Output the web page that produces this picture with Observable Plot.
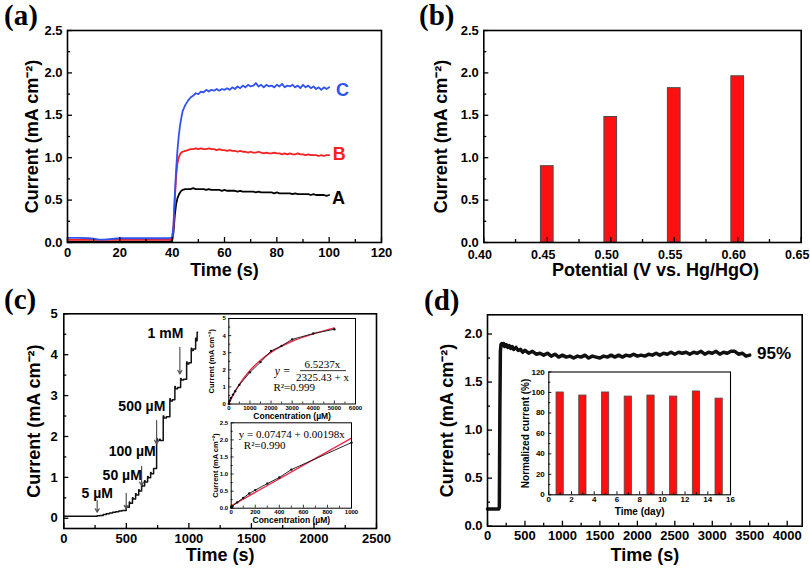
<!DOCTYPE html>
<html><head><meta charset="utf-8">
<script src="https://cdn.jsdelivr.net/npm/d3@7"></script>
<script src="https://cdn.jsdelivr.net/npm/@observablehq/plot@0.6"></script>
<style>
body{margin:0;background:#fff;}
#fig{position:relative;width:810px;height:570px;overflow:hidden;background:#fff;}
#fig svg{position:absolute;}
.plab{position:absolute;font-family:"Liberation Serif","Times New Roman",serif;font-weight:bold;font-size:29px;line-height:1.1;color:#000;}
</style></head><body><div id="fig"></div>
<script>
// ---------- (a) chronoamperometry ----------
const aTime = [0,4,8,10,12,14,16,20,25,30,35,39,
  40,40.5,41,41.5,42,42.5,43,43.5,
  44,45,46,47,48,49,50,51,52,53,54,55,56,57,58,59,60,61,62,63,64,65,66,67,68,69,70,71,72,73,74,75,76,77,78,79,80,81,82,83,84,85,86,87,88,89,90,91,92,93,94,95,96,97,98,99,100];
const aC = [0.055,0.055,0.05,0.045,0.035,0.035,0.04,0.05,0.05,0.05,0.05,0.05,
  0.06,0.2,0.55,0.85,1.08,1.25,1.38,1.47,
  1.55,1.62,1.67,1.71,1.73,1.76,1.75,1.78,1.77,1.8,1.78,1.8,1.79,1.81,1.79,1.81,1.8,1.82,1.8,1.83,1.81,1.84,1.82,1.85,1.83,1.86,1.84,1.85,1.88,1.84,1.86,1.83,1.86,1.84,1.85,1.83,1.86,1.84,1.87,1.83,1.85,1.84,1.86,1.83,1.85,1.82,1.86,1.83,1.85,1.82,1.84,1.81,1.83,1.8,1.83,1.81,1.83];
const aB = [0.03,0.03,0.03,0.03,0.03,0.03,0.03,0.03,0.03,0.03,0.03,0.03,
  0.04,0.18,0.5,0.78,0.93,1.0,1.04,1.06,
  1.07,1.08,1.09,1.1,1.1,1.11,1.1,1.11,1.1,1.1,1.11,1.1,1.1,1.09,1.1,1.09,1.09,1.08,1.09,1.08,1.08,1.07,1.08,1.07,1.07,1.06,1.07,1.06,1.06,1.07,1.06,1.05,1.06,1.05,1.05,1.06,1.05,1.05,1.04,1.05,1.04,1.05,1.04,1.04,1.05,1.04,1.04,1.03,1.04,1.03,1.03,1.03,1.02,1.03,1.02,1.03,1.03];
const aA = [0.01,0.01,0.01,0.01,0.01,0.01,0.01,0.01,0.01,0.01,0.01,0.01,
  0.02,0.12,0.32,0.45,0.52,0.56,0.59,0.61,
  0.62,0.63,0.63,0.63,0.64,0.63,0.63,0.63,0.63,0.62,0.63,0.62,0.62,0.62,0.62,0.61,0.62,0.61,0.61,0.61,0.61,0.6,0.61,0.6,0.6,0.6,0.6,0.6,0.59,0.6,0.59,0.59,0.59,0.59,0.59,0.58,0.59,0.58,0.58,0.58,0.58,0.58,0.57,0.58,0.57,0.57,0.57,0.57,0.57,0.56,0.57,0.56,0.56,0.56,0.56,0.55,0.56];
const aNames = ["A","B","C"];
const aColors = ["#000000","#f52020","#2f52f0"];
const aLabelTime = [103.6,103.9,105.1];
const aLabelCur = [0.52,1.04,1.79];
const aXTicks = [0,20,40,60,80,100,120];
const aXMinor = [10,30,50,70,90,110];
const aYTicks = [0,0.5,1.0,1.5,2.0,2.5];
const aYMinor = [0.25,0.75,1.25,1.75,2.25];

// ---------- (b) bars vs potential ----------
const bPotential = [0.45,0.50,0.55,0.60];
const bCurrent = [0.90,1.48,1.82,1.96];
const bXTicks = [0.40,0.45,0.50,0.55,0.60,0.65];
const bXMinor = [0.425,0.475,0.525,0.575,0.625];
const bYTicks = [0,0.5,1.0,1.5,2.0,2.5];
const bYMinor = [0.25,0.75,1.25,1.75,2.25];

// ---------- (c) staircase response ----------
const cTrace = [[0,0.05],[267,0.06],[290,0.07],[315,0.09],[340,0.11],[365,0.13],[390,0.15],[415,0.16],[440,0.18],[465,0.19],
  [499,0.3],[503,0.27],[524,0.4],[528,0.37],[549,0.5],[553,0.47],[574,0.6],[578,0.57],[599,0.7],[603,0.67],
  [622,0.82],[626,0.79],[646,0.92],[650,0.89],[670,1.02],[674,0.99],[694,1.12],[698,1.09],[718,1.22],
  [742,1.95],[746,1.9],[765,1.93],[770,1.9],[795,2.5],[800,2.45],[820,2.48],[848,2.92],[852,2.87],[868,2.9],
  [888,3.22],[892,3.17],[910,3.2],[934,3.42],[938,3.38],[958,3.4],[982,3.82],[986,3.77],[1000,3.8],
  [1019,4.16],[1023,4.1],[1036,4.14],[1054,4.4],[1058,4.34],[1066,4.55],[1070,4.55]];
const cLabels = ["5 µM","50 µM","100 µM","500 µM","1 mM"];
const cLabelTime = [267,467,547,624,813];
const cLabelCur = [0.61,1.05,1.64,2.73,4.51];
const cArrowTime = [267,499,622,742,928];
const cArrowTop = [0.43,0.61,1.27,2.39,4.18];
const cArrowBottom = [0.15,0.23,0.8,1.82,3.53];
const cXTicks = [0,500,1000,1500,2000,2500];
const cXMinor = [250,750,1250,1750,2250];
const cYTicks = [0,1,2,3,4,5];
const cYMinor = [0.5,1.5,2.5,3.5,4.5];
// inset 1 (calibration)
const c1Conc = [0,50,100,200,300,500,1000,1500,2000,2500,3000,4000,5000];
const c1Cur = [0,0.2,0.35,0.55,0.75,1.12,1.85,2.45,3.1,3.4,3.78,4.12,4.37];
const c1FitConc = [0,250,500,1000,1500,2000,2500,3000,4000,5000];
const c1FitCur = [0,0.63,1.15,1.96,2.56,3.02,3.38,3.67,4.1,4.45];
const c1XTicks = [0,1000,2000,3000,4000,5000,6000];
const c1XMinor = [500,1500,2500,3500,4500,5500];
const c1YTicks = [0,1,2,3,4,5];
const c1YMinor = [0.5,1.5,2.5,3.5,4.5];
// inset 2 (linear range)
const c2Conc = [0,5,10,50,100,150,200,300,400,500,1000];
const c2Cur = [0.02,0.04,0.06,0.17,0.3,0.43,0.53,0.72,0.9,1.13,1.92];
const c2FitConc = [0,1000];
const c2FitCur = [0.07,2.05];
const c2XTicks = [0,200,400,600,800,1000];
const c2XMinor = [100,300,500,700,900];
const c2YTicks = [0,0.5,1.0,1.5,2.0,2.5];
const c2YMinor = [0.25,0.75,1.25,1.75,2.25];

// ---------- (d) stability ----------
const dTrace = [[0,0.18],[100,0.18],[150,0.18],[158,0.2],[165,1.2],[172,1.82],[180,1.89],[190,1.9],[200,1.88],[215,1.9],[230,1.87],[250,1.89],[270,1.86],[290,1.88],[310,1.85],[330,1.87],[350,1.84],[380,1.86],[410,1.83],[440,1.84],[470,1.81],[500,1.83],
  [550,1.8],[600,1.82],[650,1.79],[700,1.8],[750,1.78],[800,1.8],[850,1.77],[900,1.79],[950,1.76],[1000,1.78],[1050,1.76],[1100,1.77],[1150,1.75],[1200,1.77],[1250,1.76],[1300,1.78],[1350,1.75],[1400,1.77],[1450,1.76],[1500,1.75],
  [1550,1.77],[1600,1.76],[1650,1.78],[1700,1.76],[1750,1.78],[1800,1.76],[1850,1.78],[1900,1.77],[1950,1.79],[2000,1.77],[2050,1.78],[2100,1.77],[2150,1.79],[2200,1.78],[2250,1.8],[2300,1.78],[2350,1.8],[2400,1.79],[2450,1.81],[2500,1.79],
  [2550,1.81],[2600,1.8],[2650,1.81],[2700,1.79],[2750,1.81],[2800,1.8],[2850,1.82],[2900,1.79],[2950,1.81],[3000,1.8],[3050,1.82],[3100,1.79],[3150,1.81],[3200,1.8],[3250,1.82],[3300,1.82],[3350,1.79],[3400,1.8],[3450,1.77],[3500,1.78]];
const dRetention = "95%";
const dXTicks = [0,500,1000,1500,2000,2500,3000,3500,4000];
const dXMinor = [250,750,1250,1750,2250,2750,3250,3750];
const dYTicks = [0,0.5,1.0,1.5,2.0];
const dYMinor = [0.25,0.75,1.25,1.75];
const dDay = [1,3,5,7,9,11,13,15];
const dNorm = [100,97,100,96,97,96,101,94];
const dIXTicks = [0,2,4,6,8,10,12,14,16];
const dIXMinor = [1,3,5,7,9,11,13,15];
const dIYTicks = [0,20,40,60,80,100,120];
const dIYMinor = [10,30,50,70,90,110];

const yTitle = "Current (mA cm\u207B\u00B2)";
const serif = "'Liberation Serif', 'Times New Roman', serif";

function panel(o) {
  const ih = o.H - o.mt - o.mb, iw = o.W - o.ml - o.mr;
  const marks = [
    ...o.marks,
    Plot.ruleX(o.xMinor, {x: d => d, insetTop: ih - o.minorLen, strokeWidth: o.tickW}),
    Plot.ruleX(o.xMajor, {x: d => d, insetTop: ih - o.majorLen, strokeWidth: o.tickW}),
    Plot.ruleY(o.yMinor, {y: d => d, insetRight: iw - o.minorLen, strokeWidth: o.tickW}),
    Plot.ruleY(o.yMajor, {y: d => d, insetRight: iw - o.majorLen, strokeWidth: o.tickW}),
    Plot.frame({strokeWidth: o.frameW}),
    Plot.axisX(o.xMajor, {tickSize: 0, tickPadding: o.xPad, tickFormat: o.xFmt, label: null, fontSize: o.xfs || o.fs, dx: o.xDx || 0}),
    Plot.axisY(o.yMajor, {tickSize: 0, tickPadding: o.yPad, tickFormat: o.yFmt, label: null, fontSize: o.fs}),
    Plot.text([o.xLabel], {text: d => d, frameAnchor: "bottom", textAnchor: "middle", lineAnchor: "middle", dy: o.xLabelDy, dx: o.xLabelDx || 0, fontSize: o.xLabelSize, fontWeight: "bold"}),
    Plot.text([o.yLabel], {text: d => d, frameAnchor: "left", textAnchor: "middle", lineAnchor: "middle", rotate: -90, dx: o.yLabelDx, fontSize: o.yLabelSize, fontWeight: "bold"})
  ];
  const svg = Plot.plot({
    width: o.W, height: o.H,
    marginLeft: o.ml, marginRight: o.mr, marginTop: o.mt, marginBottom: o.mb,
    x: {domain: o.xDomain}, y: {domain: o.yDomain},
    style: {fontFamily: "'Liberation Sans', Arial, sans-serif", fontWeight: "bold", fontSize: o.fs + "px", color: "#000", background: "transparent", overflow: "visible"},
    marks
  });
  svg.style.left = o.left + "px";
  svg.style.top = o.top + "px";
  return svg;
}

const fig = document.getElementById("fig");
const f1 = d3.format(".1f"), f2 = d3.format(".2f"), f0 = d3.format("d");

// (a)
const aRows = (vals) => aTime.map((t, i) => ({t, v: vals[i]}));
const aSeries = [aA, aB, aC];
const aLab = aNames.map((n, i) => ({n, t: aLabelTime[i], v: aLabelCur[i], c: aColors[i]}));
fig.appendChild(panel({
  left: 0, top: 0, W: 405, H: 285, ml: 67, mr: 24, mt: 30, mb: 43,
  xDomain: [0, 120], yDomain: [0, 2.5],
  xMajor: aXTicks, xMinor: aXMinor, yMajor: aYTicks, yMinor: aYMinor,
  xFmt: f0, yFmt: f1, fs: 13, xPad: 5, yPad: 5, majorLen: 5, minorLen: 3, tickW: 1.3, frameW: 1.6,
  xLabel: "Time (s)", xLabelDy: 28, xLabelSize: 18, yLabel: yTitle, yLabelDx: -35, yLabelSize: 18,
  marks: [
    ...aSeries.map((s, i) => Plot.line(aRows(s), {x: "t", y: "v", stroke: aColors[i], strokeWidth: 1.8})),
    Plot.text(aLab, {x: "t", y: "v", text: "n", fill: "c", fontSize: 18, fontWeight: "bold"})
  ]
}));

// (b)
const bRows = bPotential.map((p, i) => ({p, v: bCurrent[i]}));
fig.appendChild(panel({
  left: 405, top: 0, W: 405, H: 285, ml: 78.3, mr: 9.3, mt: 30, mb: 43,
  xDomain: [0.40, 0.65], yDomain: [0, 2.5],
  xMajor: bXTicks, xMinor: bXMinor, yMajor: bYTicks, yMinor: bYMinor,
  xFmt: f2, yFmt: f1, fs: 13, xfs: 12.5, xDx: -4, xPad: 7.5, yPad: 5, majorLen: 5, minorLen: 3, tickW: 1.3, frameW: 1.6,
  xLabel: "Potential (V vs. Hg/HgO)", xLabelDy: 28, xLabelDx: 13, xLabelSize: 18, yLabel: yTitle, yLabelDx: -43, yLabelSize: 18,
  marks: [
    Plot.rect(bRows, {x1: d => d.p - 0.005, x2: d => d.p + 0.005, y1: 0, y2: "v", fill: "#ff1010", stroke: "#4a4a4a", strokeWidth: 1})
  ]
}));

// (c)
const cRows = cTrace.map(([t, v]) => ({t, v}));
const cLab = cLabels.map((s, i) => ({s, t: cLabelTime[i], v: cLabelCur[i]}));
const cArr = cArrowTime.map((t, i) => ({t, y1: cArrowTop[i], y2: cArrowBottom[i]}));
fig.appendChild(panel({
  left: 0, top: 285, W: 405, H: 285, ml: 63.3, mr: 29, mt: 28.3, mb: 42,
  xDomain: [0, 2500], yDomain: [-0.25, 5],
  xMajor: cXTicks, xMinor: cXMinor, yMajor: cYTicks, yMinor: cYMinor,
  xFmt: f0, yFmt: f0, fs: 13, xPad: 5, yPad: 6, majorLen: 5, minorLen: 3, tickW: 1.3, frameW: 1.6,
  xLabel: "Time (s)", xLabelDy: 27, xLabelSize: 18, yLabel: yTitle, yLabelDx: -30, yLabelSize: 18,
  marks: [
    Plot.line(cRows, {x: "t", y: "v", curve: "step-after", stroke: "#111", strokeWidth: 1.5}),
    Plot.arrow(cArr, {x1: "t", x2: "t", y1: "y1", y2: "y2", stroke: "#555", strokeWidth: 1.2, headLength: 5}),
    Plot.text(cLab, {x: "t", y: "v", text: "s", fontSize: 14, fontWeight: "bold"})
  ]
}));

// (c) inset 1
const c1Rows = c1Conc.map((x, i) => ({x, y: c1Cur[i]}));
const c1Fit = c1FitConc.map((x, i) => ({x, y: c1FitCur[i]}));
fig.appendChild(panel({
  left: 195, top: 305, W: 165, H: 115, ml: 33.3, mr: 5, mt: 13, mb: 16.5,
  xDomain: [0, 6000], yDomain: [0, 5],
  xMajor: c1XTicks, xMinor: c1XMinor, yMajor: c1YTicks, yMinor: c1YMinor,
  xFmt: f0, yFmt: f0, fs: 6, xPad: 1.5, yPad: 3, majorLen: 3, minorLen: 2, tickW: 0.8, frameW: 1,
  xLabel: "Concentration (µM)", xLabelDy: 12, xLabelSize: 8.5, yLabel: yTitle, yLabelDx: -17, yLabelSize: 7.5,
  marks: [
    Plot.line(c1Fit, {x: "x", y: "y", stroke: "#ee2a4a", strokeWidth: 1.4, curve: "monotone-x"}),
    Plot.line(c1Rows, {x: "x", y: "y", stroke: "#111", strokeWidth: 0.9}),
    Plot.dot(c1Rows, {x: "x", y: "y", r: 1.2, fill: "#111"}),
    Plot.text(["y ="], {text: d => d, x: 2544, y: 1.9, fontSize: 11.5, fontWeight: "normal", fontStyle: "italic", fontFamily: serif}),
    Plot.text(["6.5237x"], {text: d => d, x: 4437, y: 2.34, fontSize: 11, fontWeight: "normal", fontFamily: serif}),
    Plot.ruleY([1.95], {x1: 3395, x2: 5573, strokeWidth: 0.8}),
    Plot.text(["2325.43 + x"], {text: d => d, x: 4437, y: 1.56, fontSize: 11, fontWeight: "normal", fontFamily: serif}),
    Plot.text(["R\u00B2=0.999"], {text: d => d, x: 2116, y: 0.98, textAnchor: "start", fontSize: 11, fontWeight: "normal", fontFamily: serif})
  ]
}));

// (c) inset 2
const c2Rows = c2Conc.map((x, i) => ({x, y: c2Cur[i]}));
const c2Fit = c2FitConc.map((x, i) => ({x, y: c2FitCur[i]}));
fig.appendChild(panel({
  left: 195, top: 415, W: 165, H: 115, ml: 35.7, mr: 9, mt: 7.3, mb: 22.3,
  xDomain: [0, 1000], yDomain: [0, 2.5],
  xMajor: c2XTicks, xMinor: c2XMinor, yMajor: c2YTicks, yMinor: c2YMinor,
  xFmt: f0, yFmt: f1, fs: 6, xPad: 1.5, yPad: 3, majorLen: 3, minorLen: 2, tickW: 0.8, frameW: 1,
  xLabel: "Concentration (µM)", xLabelDy: 12, xLabelSize: 8.5, yLabel: yTitle, yLabelDx: -15.5, yLabelSize: 7.5,
  marks: [
    Plot.line(c2Fit, {x: "x", y: "y", stroke: "#ee2a4a", strokeWidth: 1.4}),
    Plot.line(c2Rows, {x: "x", y: "y", stroke: "#111", strokeWidth: 0.9}),
    Plot.dot(c2Rows, {x: "x", y: "y", r: 1.2, fill: "#111"}),
    Plot.text(["y = 0.07474 + 0.00198x"], {text: d => d, x: 63, y: 2.15, textAnchor: "start", fontSize: 11, fontWeight: "normal", fontFamily: serif}),
    Plot.text(["R\u00B2=0.990"], {text: d => d, x: 105, y: 1.84, textAnchor: "start", fontSize: 11, fontWeight: "normal", fontFamily: serif})
  ]
}));

// (d)
const dRows = dTrace.map(([t, v]) => ({t, v}));
fig.appendChild(panel({
  left: 405, top: 285, W: 405, H: 285, ml: 82, mr: 8.3, mt: 29.3, mb: 44.3,
  xDomain: [0, 4200], yDomain: [0, 2.2],
  xMajor: dXTicks, xMinor: dXMinor, yMajor: dYTicks, yMinor: dYMinor,
  xFmt: f0, yFmt: f1, fs: 13, xPad: 5, yPad: 5, majorLen: 5, minorLen: 3, tickW: 1.3, frameW: 1.6,
  xLabel: "Time (s)", xLabelDy: 29, xLabelSize: 18, yLabel: yTitle, yLabelDx: -40, yLabelSize: 18,
  marks: [
    Plot.line(dRows, {x: "t", y: "v", stroke: "#111", strokeWidth: 3.5}),
    Plot.text([dRetention], {text: d => d, x: 3824, y: 1.8, fontSize: 17, fontWeight: "bold"})
  ]
}));

// (d) inset
const dRowsI = dDay.map((x, i) => ({x, y: dNorm[i]}));
fig.appendChild(panel({
  left: 500, top: 360, W: 240, H: 155, ml: 48.3, mr: 10, mt: 11.5, mb: 20.7,
  xDomain: [0, 16], yDomain: [0, 120],
  xMajor: dIXTicks, xMinor: dIXMinor, yMajor: dIYTicks, yMinor: dIYMinor,
  xFmt: f0, yFmt: f0, fs: 8, xPad: 2, yPad: 4, majorLen: 3, minorLen: 2, tickW: 0.9, frameW: 1.1,
  xLabel: "Time (day)", xLabelDy: 17.4, xLabelSize: 10, yLabel: "Normalized current (%)", yLabelDx: -23.3, yLabelSize: 10,
  marks: [
    Plot.rect(dRowsI, {x1: d => d.x - 0.32, x2: d => d.x + 0.32, y1: 0, y2: "y", fill: "#ff1010", stroke: "#4a4a4a", strokeWidth: 0.8})
  ]
}));

// panel letters
[["(a)", 4, 0], ["(b)", 419, 0], ["(c)", 4, 284], ["(d)", 424, 285]].forEach(([s, x, y]) => {
  const el = document.createElement("div");
  el.className = "plab";
  el.textContent = s;
  el.style.left = x + "px";
  el.style.top = y + "px";
  fig.appendChild(el);
});
</script></body></html>
